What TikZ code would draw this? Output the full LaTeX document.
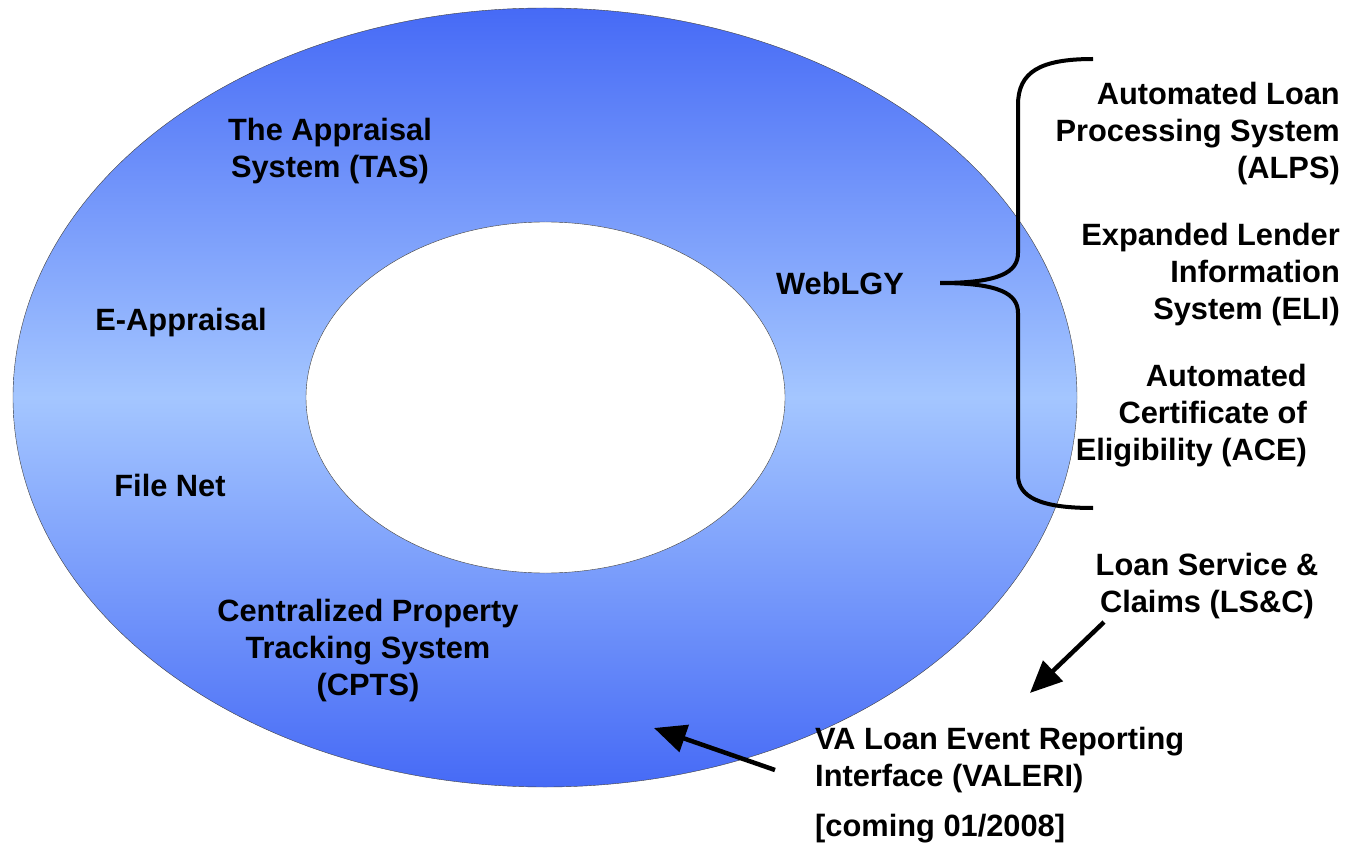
\documentclass[tikz,border=0pt]{standalone}
\usepackage{fontspec}
\setmainfont{Liberation Sans}
\usetikzlibrary{positioning, arrows.meta}
\definecolor{ringdark}{RGB}{70,106,246}
\definecolor{ringlight}{RGB}{164,198,255}

\begin{document}
\begin{tikzpicture}[x=1pt, y=-1pt,
  sys/.style={font=\bfseries\fontsize{30.8}{37}\selectfont, inner sep=0pt, align=center},
  pointer/.style={line width=4.5pt, -{Triangle[length=32pt, width=28pt]}},
  brace/.style={line width=4pt}]
  \useasboundingbox (0,0) rectangle (1355,850);
  \shade[draw=black!75, top color=ringdark, bottom color=ringdark, middle color=ringlight]
    (545,397.5) ellipse [x radius=532pt, y radius=389.5pt];
  \filldraw[fill=white, draw=black!75] (545.5,397.5) ellipse [x radius=239.5pt, y radius=175.5pt];

  \node[sys] (tas) at (330,151) {The Appraisal\\System (TAS)};
  \node[sys] (eapp) at (181,323) {E-Appraisal};
  \node[sys] (filenet) at (170,485) {File Net};
  \node[sys] (cpts) at (368,651) {Centralized Property\\Tracking System\\(CPTS)};
  \node[sys] (weblgy) at (840,283) {WebLGY};

  \node[sys, align=right, anchor=east] (alps) at (1340,134) {Automated Loan\\Processing System\\(ALPS)};
  \node[sys, align=right, anchor=east] (eli) at (1340,275) {Expanded Lender\\Information\\System (ELI)};
  \node[sys, align=right, anchor=east] (ace) at (1307,416) {Automated\\Certificate of\\Eligibility (ACE)};
  \node[sys] (lsc) at (1207,586) {Loan Service \&\\Claims (LS\&C)};
  \node[sys, align=left, anchor=west] (valeri) at (815,760) {VA Loan Event Reporting\\Interface (VALERI)};
  \node[sys, below=21pt of valeri.south west, anchor=north west] (coming) {[coming 01/2008]};

  \coordinate (bracetop) at (1093,59);
  \coordinate (bracebot) at (1093,508);
  \coordinate (bracetip) at ([xshift=36pt]weblgy.east);
  \coordinate (ringpoint) at (654,728);

  \draw[brace] (bracetop) .. controls (1040,59) and (1018,72) .. (1018,105) -- (1018,253)
    .. controls (1018,272) and (1000,283) .. (bracetip)
    .. controls (1000,283) and (1018,294) .. (1018,313) -- (1018,475)
    .. controls (1018,497) and (1040,508) .. (bracebot);

  \draw[pointer] ([xshift=-103pt, yshift=-3pt]lsc.south) -- ([xshift=215pt, yshift=34pt]valeri.north west);
  \draw[pointer] ([xshift=-40pt, yshift=-10pt]valeri.west) -- (ringpoint);
\end{tikzpicture}
\end{document}
